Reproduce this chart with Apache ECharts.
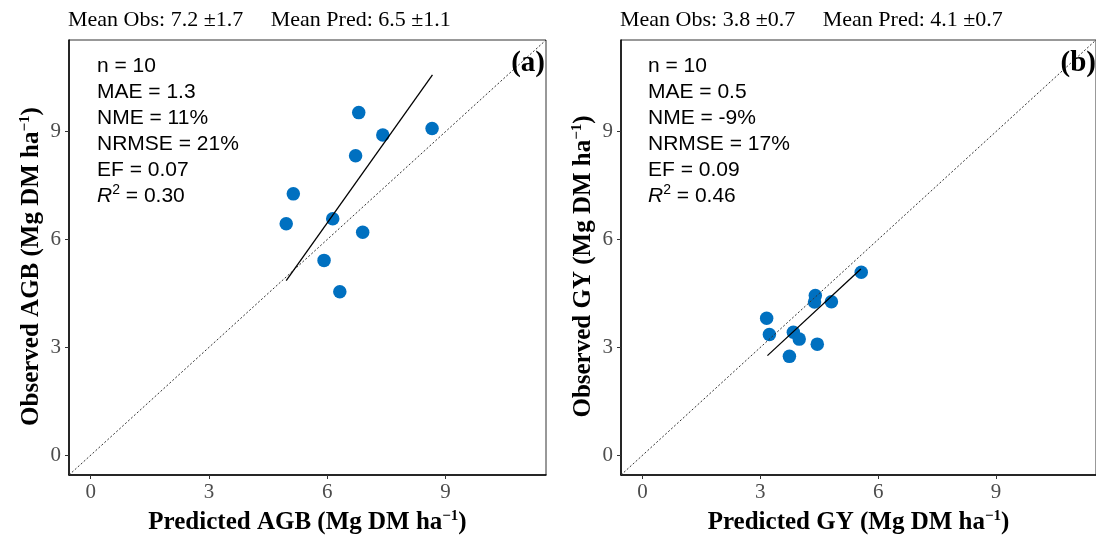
<!DOCTYPE html>
<html><head><meta charset="utf-8">
<script src="https://cdn.jsdelivr.net/npm/echarts@6/dist/echarts.min.js"></script>
<style>html,body{margin:0;padding:0;background:#fff}#c{width:1096px;height:542px}</style>
</head><body><div id="c"></div>
<script>
// Panel (a): AGB
const predAGB = [6.80, 7.41, 8.66, 6.72, 5.14, 6.14, 4.96, 6.90, 5.92, 6.32];
const obsAGB  = [9.53, 8.91, 9.09, 8.33, 7.27, 6.58, 6.44, 6.20, 5.42, 4.55];
const fitAGB  = [[4.96, 4.86], [8.67, 10.58]];
// Panel (b): GY
const predGY = [5.57, 4.40, 4.38, 4.81, 3.16, 3.23, 3.84, 3.99, 4.45, 3.74];
const obsGY  = [5.09, 4.44, 4.26, 4.27, 3.81, 3.36, 3.42, 3.23, 3.09, 2.75];
const fitGY  = [[3.18, 2.77], [5.56, 5.18]];
// 1:1 line & axes
const axisRange = [-0.55, 11.55];
const oneToOne = [[-0.55, -0.55], [11.55, 11.55]];
const tickValues = [0, 3, 6, 9];
// Texts
const headerA = 'Mean Obs: 7.2 \u00b11.7     Mean Pred: 6.5 \u00b11.1';
const headerB = 'Mean Obs: 3.8 \u00b10.7     Mean Pred: 4.1 \u00b10.7';
const statsA = ['n = 10', 'MAE = 1.3', 'NME = 11%', 'NRMSE = 21%', 'EF = 0.07'];
const r2A = '0.30';
const statsB = ['n = 10', 'MAE = 0.5', 'NME = -9%', 'NRMSE = 17%', 'EF = 0.09'];
const r2B = '0.46';
const panelTags = ['(a)', '(b)'];
const xNames = ['Predicted AGB (Mg DM ha{s|\u22121})', 'Predicted GY (Mg DM ha{s|\u22121})'];
const yNames = ['Observed AGB (Mg DM ha{s|\u22121})', 'Observed GY (Mg DM ha{s|\u22121})'];

const SERIF = '"Liberation Serif", "Times New Roman", serif';
const SANS = '"Liberation Sans", Arial, sans-serif';
const BLUE = '#0070C0';

const chart = echarts.init(document.getElementById('c'), null, {renderer: 'canvas'});

const grids = [
  {left: 69, top: 40, width: 477, height: 439},
  {left: 621, top: 40, width: 477, height: 439}
];

function nameStyle(pad) {
  return {
    fontFamily: SERIF, fontWeight: 'bold', fontSize: 25, color: '#000', lineHeight: 28, padding: pad,
    rich: {s: {fontFamily: SERIF, fontWeight: 'bold', fontSize: 15, lineHeight: 15, verticalAlign: 'top', color: '#000'}}
  };
}

function xAxis(i) {
  return {
    type: 'value', gridIndex: i, min: axisRange[0], max: axisRange[1],
    name: xNames[i], nameLocation: 'middle', nameGap: 34, nameTextStyle: nameStyle(0),
    axisLine: {onZero: false, lineStyle: {color: '#000', width: 1.5}},
    axisTick: {customValues: tickValues, length: 4, lineStyle: {color: '#333'}},
    axisLabel: {customValues: tickValues, fontFamily: SERIF, fontSize: 21, color: '#4d4d4d', margin: 7},
    splitLine: {show: false}
  };
}
function yAxis(i) {
  return {
    type: 'value', gridIndex: i, min: axisRange[0], max: axisRange[1],
    name: yNames[i], nameLocation: 'middle', nameGap: 23, nameTextStyle: nameStyle([0, 18, 0, 0]),
    axisLine: {onZero: false, lineStyle: {color: '#000', width: 1.5}},
    axisTick: {customValues: tickValues, length: 4, lineStyle: {color: '#333'}},
    axisLabel: {customValues: tickValues, fontFamily: SERIF, fontSize: 21, color: '#4d4d4d', margin: 8},
    splitLine: {show: false}
  };
}

function pairs(xs, ys) { return xs.map((x, k) => [x, ys[k]]); }

function panelSeries(i, xs, ys, fit) {
  return [
    {type: 'scatter', xAxisIndex: i, yAxisIndex: i, data: pairs(xs, ys), symbolSize: 13.5,
     itemStyle: {color: BLUE, opacity: 1}, z: 2, silent: true},
    {type: 'line', xAxisIndex: i, yAxisIndex: i, data: oneToOne, symbol: 'none', z: 3,
     lineStyle: {color: '#333', width: 1, type: [2, 2]}, silent: true},
    {type: 'line', xAxisIndex: i, yAxisIndex: i, data: fit, symbol: 'none', z: 4,
     lineStyle: {color: '#000', width: 1.3}, silent: true}
  ];
}

function statsText(lines, r2) {
  return lines.join('\n') + '\n{i|R}{s|2}{t| = ' + r2 + '}';
}
const statRich = {
  i: {fontFamily: SANS, fontSize: 21, fontStyle: 'italic', lineHeight: 26, fill: '#000'},
  s: {fontFamily: SANS, fontSize: 14, lineHeight: 18, verticalAlign: 'top', fill: '#000'},
  t: {fontFamily: SANS, fontSize: 21, lineHeight: 26, fill: '#000'}
};

const option = {
  animation: false,
  backgroundColor: '#fff',
  grid: grids.map(g => Object.assign({show: true, borderColor: '#333', borderWidth: 1, backgroundColor: 'transparent'}, g)),
  xAxis: [xAxis(0), xAxis(1)],
  yAxis: [yAxis(0), yAxis(1)],
  series: [].concat(panelSeries(0, predAGB, obsAGB, fitAGB), panelSeries(1, predGY, obsGY, fitGY)),
  graphic: [
    {type: 'text', x: 68, y: 20, style: {text: headerA, fontFamily: SERIF, fontSize: 22, fill: '#000', verticalAlign: 'middle'}},
    {type: 'text', x: 620, y: 20, style: {text: headerB, fontFamily: SERIF, fontSize: 22, fill: '#000', verticalAlign: 'middle'}},
    {type: 'text', x: 97, y: 53, z: 10, style: {text: statsText(statsA, r2A), fontFamily: SANS, fontSize: 21, lineHeight: 26, fill: '#000', rich: statRich}},
    {type: 'text', x: 648, y: 53, z: 10, style: {text: statsText(statsB, r2B), fontFamily: SANS, fontSize: 21, lineHeight: 26, fill: '#000', rich: statRich}},
    {type: 'text', x: 545, y: 64, z: 10, style: {text: panelTags[0], fontFamily: SERIF, fontWeight: 'bold', fontSize: 29, fill: '#000', align: 'right', verticalAlign: 'middle'}},
    {type: 'text', x: 1096, y: 64, z: 10, style: {text: panelTags[1], fontFamily: SERIF, fontWeight: 'bold', fontSize: 29, fill: '#000', align: 'right', verticalAlign: 'middle'}}
  ]
};
chart.setOption(option);
</script>
</body></html>
